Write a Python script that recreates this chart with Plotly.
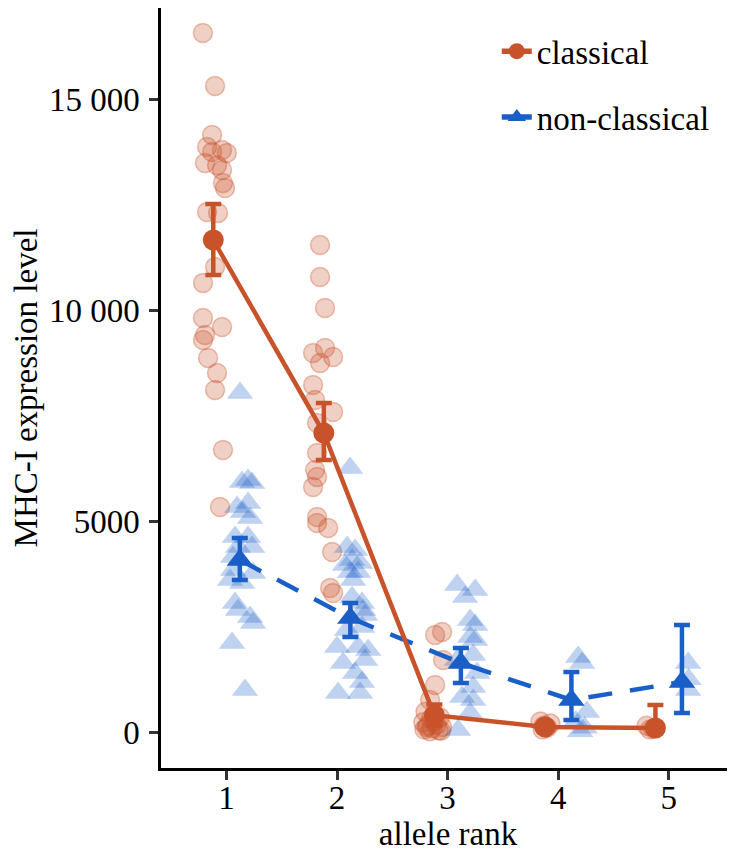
import plotly.graph_objects as go

# ---------------- data ----------------
ranks = [1, 2, 3, 4, 5]
y_tick_vals = [0, 5000, 10000, 15000]
y_tick_text = ["0", "5000", "10 000", "15 000"]

# classical alleles: individual (jittered) observations
cls_x = [0.786, 0.896, 0.869, 0.824, 0.959, 0.869, 1.002, 0.805, 0.914, 0.959,
         0.968, 0.986, 0.824, 0.923, 0.896, 0.787, 0.787, 0.959, 0.805, 0.787,
         0.833, 0.914, 0.896, 0.968, 0.941,
         1.846, 1.846, 1.891, 1.783, 1.891, 1.964, 1.846, 1.783, 1.801, 1.964,
         1.819, 1.819, 1.801, 1.819, 1.783, 1.819, 1.819, 1.919, 1.955, 1.937, 1.964,
         2.950, 2.887, 2.959, 2.887, 2.841, 2.800, 2.930, 2.850, 2.780, 2.900,
         2.820, 2.950, 2.860, 2.790, 2.920, 2.840, 2.880, 2.810, 2.940,
         3.840, 3.870, 3.900, 3.860, 3.930, 3.890,
         4.800, 4.830, 4.860]
cls_y = [16587, 15330, 14167, 13882, 13811, 13763, 13740, 13502, 13450, 13336,
         13028, 12909, 12340, 12316, 11034, 10655, 9824, 9611, 9421, 9302,
         8875, 8519, 8116, 6692, 5339,
         11557, 10797, 10062, 8994, 9112, 8899, 8756, 8234, 7878, 7594,
         7333, 6621, 6217, 6051, 5814, 5102, 4960, 4841, 4271, 3417, 3298,
         2373, 2302, 1709, 1115, 759, 480, 350, 300, 230, 180,
         150, 120, 90, 60, 40, 20, 260, 110, 30,
         250, 150, 100, 60, 200, 120,
         150, 60, 80]

# non-classical alleles: individual (jittered) observations
ncl_x = [1.122, 1.195, 1.140, 1.231, 1.095, 1.195, 1.149, 1.213, 1.077, 1.195,
         1.104, 1.231, 1.059, 1.059, 1.240, 1.032, 1.140, 1.077, 1.104, 1.213,
         1.240, 1.050, 1.167,
         2.118, 2.090, 2.163, 2.136, 2.072, 2.208, 2.118, 2.190, 2.145, 2.136,
         2.226, 2.235, 2.253, 2.226, 2.090, 2.000, 2.190, 2.281, 2.054, 2.253,
         2.163, 2.226, 2.009, 2.208,
         3.086, 3.249, 3.158, 3.204, 3.249, 3.204, 3.249, 3.231, 3.086, 3.267,
         3.231, 3.131, 3.231, 3.204, 3.095,
         4.181, 4.217, 4.260, 4.200, 4.160, 4.240,
         5.176, 5.180, 5.176]
ncl_y = [8044, 5980, 5932, 5908, 5339, 5434, 5220, 5078, 4627, 4627,
         4390, 4390, 4153, 3844, 3773, 3607, 3536, 3061, 2895, 2729,
         2587, 2112, 997,
         6265, 4390, 4319, 4082, 3963, 4010, 3797, 3797, 3607, 3200,
         3061, 2895, 2776, 2492, 2420, 2017, 2017, 1946, 1637, 1709,
         1400, 1187, 925, 925,
         3488, 3370, 3204, 2658, 2539, 2254, 2183, 1827, 1709, 1400,
         1068, 830, 759, 450, 47,
         1780, 1637, 475, 20, 250, 100,
         1637, 1250, 997]

# summary (mean with error bar limits) per allele rank
cls_mean = [11675, 7095, 400, 120, 95]
cls_hi = [12530, 7807, 650, 230, 640]
cls_lo = [10845, 6455, 150, 10, 95]
ncl_mean = [4082, 2705, 1637, 760, 1187]
ncl_hi = [4604, 3061, 1993, 1424, 2539]
ncl_lo = [3607, 2254, 1163, 285, 451]

series_names = ["classical", "non-classical"]

# ---------------- styling ----------------
ORANGE = "#C8522A"
BLUE = "#1A5FC8"
FONT = "Liberation Serif"
dodge = 0.12

fig = go.Figure()

# raw points
fig.add_trace(go.Scatter(
    x=cls_x, y=cls_y, mode="markers", showlegend=False, hoverinfo="skip",
    marker=dict(symbol="circle", size=19, color="rgba(200,82,42,0.28)",
                line=dict(color="rgba(200,82,42,0.35)", width=1.5))))
fig.add_trace(go.Scatter(
    x=ncl_x, y=ncl_y, mode="markers", showlegend=False, hoverinfo="skip",
    marker=dict(symbol="triangle-up", size=23, color="rgba(26,95,200,0.28)",
                line=dict(width=0))))

# summary lines
fig.add_trace(go.Scatter(
    x=[r + dodge for r in ranks], y=ncl_mean, mode="lines+markers", showlegend=False,
    line=dict(color=BLUE, width=4.5, dash="24px,18px"),
    marker=dict(symbol="triangle-up", size=23, color=BLUE),
    error_y=dict(type="data", symmetric=False,
                 array=[h - m for h, m in zip(ncl_hi, ncl_mean)],
                 arrayminus=[m - l for m, l in zip(ncl_mean, ncl_lo)],
                 color=BLUE, thickness=4.5, width=8)))
fig.add_trace(go.Scatter(
    x=[r - dodge for r in ranks], y=cls_mean, mode="lines+markers", showlegend=False,
    line=dict(color=ORANGE, width=4.5),
    marker=dict(symbol="circle", size=21, color=ORANGE),
    error_y=dict(type="data", symmetric=False,
                 array=[h - m for h, m in zip(cls_hi, cls_mean)],
                 arrayminus=[m - l for m, l in zip(cls_mean, cls_lo)],
                 color=ORANGE, thickness=4.5, width=8)))

# legend proxies
fig.add_trace(go.Scatter(
    x=[None], y=[None], mode="lines+markers", name=series_names[0], legendgroup="a",
    line=dict(color=ORANGE, width=5.5), marker=dict(symbol="circle", size=21, color=ORANGE)))
fig.add_trace(go.Scatter(
    x=[None], y=[None], mode="lines+markers", name=series_names[1], legendgroup="b",
    line=dict(color=BLUE, width=5.5), marker=dict(symbol="triangle-up", size=23, color=BLUE)))

fig.update_layout(
    width=727, height=850,
    margin=dict(l=153, r=0, t=0, b=90, autoexpand=False),
    paper_bgcolor="white", plot_bgcolor="white",
    font=dict(family=FONT, size=33, color="black"),
    legend=dict(x=0.585, y=0.98, xanchor="left", yanchor="top",
                traceorder="grouped", tracegroupgap=20,
                font=dict(family=FONT, size=33, color="black"),
                bgcolor="rgba(0,0,0,0)"),
)
fig.update_xaxes(
    range=[0.407, 5.6], tickmode="array", tickvals=ranks, ticktext=[str(r) for r in ranks],
    showgrid=False, zeroline=False, showline=True, linecolor="black", linewidth=2.5,
    ticks="outside", ticklen=9, tickwidth=2.5, tickcolor="#333333",
    tickfont=dict(family=FONT, size=33, color="black"), ticklabelstandoff=-10,
    title=dict(text="allele rank", font=dict(family=FONT, size=33, color="black"), standoff=4),
)
fig.update_yaxes(
    range=[-854, 17180], tickmode="array", tickvals=y_tick_vals, ticktext=y_tick_text,
    showgrid=False, zeroline=False, showline=True, linecolor="black", linewidth=2.5,
    ticks="outside", ticklen=9, tickwidth=2.5, tickcolor="#333333",
    tickfont=dict(family=FONT, size=33, color="black"), ticklabelstandoff=3,
    title=dict(text="MHC-I expression level", font=dict(family=FONT, size=33, color="black"), standoff=14),
)

fig.write_html("out.html")
